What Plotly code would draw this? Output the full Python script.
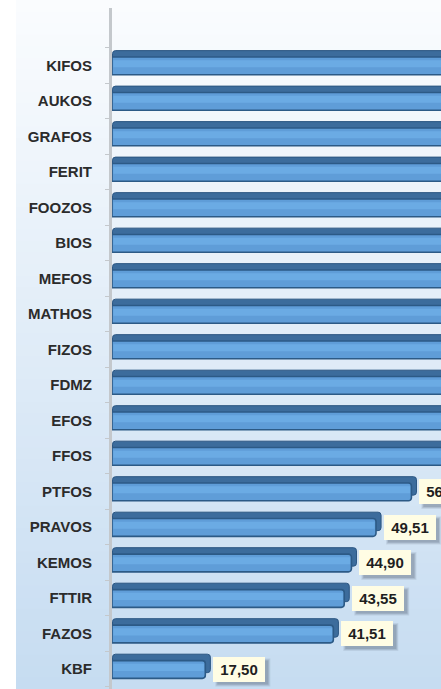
import plotly.graph_objects as go

# Data (top to bottom as in the picture); top bars run off the right edge
categories = ["KIFOS", "AUKOS", "GRAFOS", "FERIT", "FOOZOS", "BIOS", "MEFOS", "MATHOS",
              "FIZOS", "FDMZ", "EFOS", "FFOS", "PTFOS", "PRAVOS", "KEMOS", "FTTIR",
              "FAZOS", "KBF"]
values = [98.70, 91.20, 84.35, 80.12, 76.90, 74.55, 72.10, 70.40,
          68.75, 66.30, 64.80, 62.95, 56.15, 49.51, 44.90, 43.55,
          41.51, 17.50]

order = categories[::-1]  # bottom to top on the axis

W, H = 441, 689
ML, MT = 112, 8
DEPTH_X = 0.85
X_MAX = 61.7
LBL_SHIFT = 8
BOX_W, BOX_H = 52, 25
HL_INSET = 0.25

fig = go.Figure()

# back bar = top face + side face of the 3D bar
fig.add_trace(go.Bar(
    y=categories, x=[v + DEPTH_X for v in values], base=[0.1] * len(values),
    orientation="h", width=0.52, offset=-0.1,
    marker=dict(color="#3c6c9c", line=dict(color="#2b5682", width=1),
                cornerradius=3),
    hoverinfo="skip", showlegend=False,
))
# front face
fig.add_trace(go.Bar(
    y=categories, x=values, orientation="h",
    width=0.5, offset=-0.26,
    marker=dict(color="#5f9dd8", line=dict(color="#2c5a86", width=1.6),
                cornerradius=3),
    showlegend=False,
))
# highlight stripe on the front face (kept inside the outline)
fig.add_trace(go.Bar(
    y=categories, x=[v - 2 * HL_INSET for v in values],
    base=[HL_INSET] * len(values), orientation="h",
    width=0.2, offset=-0.05,
    marker=dict(color="#6babe4", line=dict(width=0)),
    hoverinfo="skip", showlegend=False,
))

# background gradient (white at top -> light blue at bottom)
shapes = []
n = 60
top_c = (250, 252, 254)
bot_c = (198, 220, 241)
plot_h = H - MT
y_top_paper = 1 + MT / plot_h
x_left_paper = (16 - ML) / (W - ML)
for i in range(n):
    t = i / (n - 1)
    c = tuple(int(round(top_c[k] + (bot_c[k] - top_c[k]) * t)) for k in range(3))
    y1 = y_top_paper - (y_top_paper) * i / n
    y0 = y_top_paper - (y_top_paper) * (i + 1) / n - 0.002
    shapes.append(dict(type="rect", xref="paper", yref="paper",
                       x0=x_left_paper, x1=1.05, y0=max(y0, 0), y1=y1,
                       fillcolor="rgb(%d,%d,%d)" % c, line=dict(width=0),
                       layer="below"))

annotations = []
for cat, v in zip(categories, values):
    if v > X_MAX:
        continue
    txt = ("%.2f" % v).replace(".", ",")
    yi = order.index(cat)
    # soft shadow of the label box
    for k, a in ((0, 0.10), (1, 0.14), (2, 0.18)):
        shapes.append(dict(
            type="rect", xref="x", yref="y",
            xsizemode="pixel", ysizemode="pixel",
            xanchor=v, yanchor=yi,
            x0=LBL_SHIFT + 2 + k, x1=LBL_SHIFT + BOX_W + 5 - k,
            y0=-BOX_H / 2 - 5 + k, y1=BOX_H / 2 - 2 - k,
            fillcolor="rgba(60,70,90,%.2f)" % a, line=dict(width=0),
            layer="above",
        ))
    annotations.append(dict(
        x=v, y=cat, xref="x", yref="y", text=txt, showarrow=False,
        xanchor="left", xshift=LBL_SHIFT, width=BOX_W - 2, height=BOX_H - 2,
        align="center", valign="middle",
        font=dict(family="Liberation Sans", size=15, color="#1e1e1e", weight="bold"),
        bgcolor="#fffde4", borderpad=0, borderwidth=1, bordercolor="#fffde4",
    ))

fig.update_layout(
    width=W, height=H,
    margin=dict(l=ML, r=0, t=MT, b=0, pad=0),
    paper_bgcolor="white", plot_bgcolor="rgba(0,0,0,0)",
    barmode="overlay",
    shapes=shapes,
    annotations=annotations,
    xaxis=dict(range=[0, X_MAX], showticklabels=False, showgrid=False,
               zeroline=False, showline=False, fixedrange=True),
    yaxis=dict(categoryorder="array", categoryarray=order,
               range=[-0.56, 18.62], showgrid=False, zeroline=False,
               showline=True, linecolor="#c4c8cc", linewidth=3,
               ticks="outside", tickson="boundaries", ticklen=4,
               tickcolor="#c4c8cc", ticklabelstandoff=14,
               tickfont=dict(family="Liberation Sans", size=15,
                             color="#2b2b2b", weight="bold")),
    font=dict(family="Liberation Sans"),
)

fig.write_html("out.html", config={"displayModeBar": False},
               post_script="document.body.style.margin='0';document.body.style.overflow='hidden';")
